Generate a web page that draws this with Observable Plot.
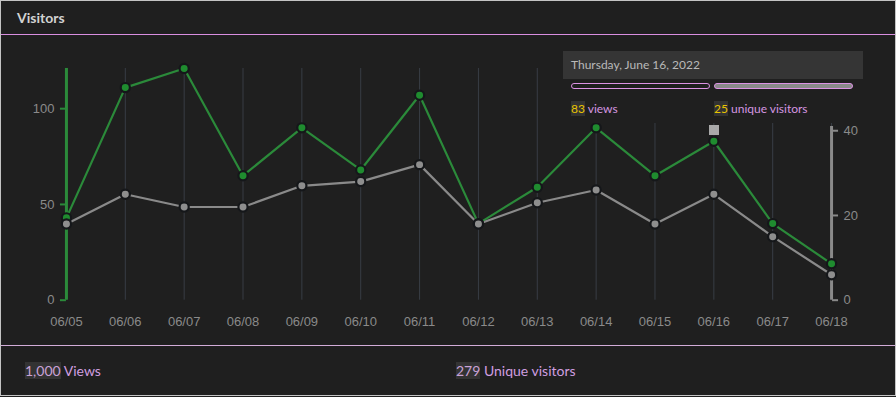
<!DOCTYPE html>
<html>
<head>
<meta charset="utf-8">
<script src="https://cdn.jsdelivr.net/npm/d3@7"></script>
<script src="https://cdn.jsdelivr.net/npm/@observablehq/plot@0.6"></script>
<style>
  html, body { margin: 0; padding: 0; background: #1f1f1f; }
  #card { position: absolute; left: 0; top: 0; width: 894px; height: 394px; border: 1px solid #c4c4c4; background: #1f1f1f; overflow: hidden; font-family: Lato, "Open Sans", sans-serif; }
  #title { position: absolute; left: 16px; top: 8px; font-size: 14px; font-weight: 700; color: #d2d2d2; }
  #hdrline { position: absolute; left: 0; top: 33px; width: 100%; height: 1px; background: #d98ee0; }
  #ftrline { position: absolute; left: 0; top: 344px; width: 100%; height: 1px; background: #d2acd8; }
  #chart { position: absolute; left: -1px; top: 34px; }
  .stat { position: absolute; top: 360px; font-size: 14px; color: #d09ee0; line-height: 19px; }
  .stat .num { background: #333333; color: #c9a2d6; }
  #tip { position: absolute; left: 562px; top: 50px; width: 300px; height: 72px; background: #1f1f1f; }
  #tipbox { position: absolute; left: 0; top: 0; width: 300px; height: 28px; background: #353535; color: #b9b9b9; font-size: 12px; line-height: 28px; }
  #tipbox span { margin-left: 8px; }
  .pill { position: absolute; top: 32px; width: 137px; height: 4px; border: 1px solid #dc92e4; border-radius: 3px; }
  .tv { position: absolute; top: 49px; font-size: 12px; color: #d596e0; line-height: 17px; }
  .tv .num { background: #333333; color: #e8c400; }
  #hovermark { position: absolute; width: 10px; height: 10px; background: #a9a9a9; }
</style>
</head>
<body>
<div id="card">
  <div id="title">Visitors</div>
  <div id="hdrline"></div>
  <div id="chart"></div>
  <div id="tip">
    <div id="tipbox"><span id="tipdate"></span></div>
    <div class="pill" style="left:8px; background:#1f1f1f;"></div>
    <div class="pill" style="left:151px; background:#8a8a8a;"></div>
    <div class="tv" style="left:8px;"><span class="num" id="tipviews"></span> <span id="tipviewslbl"></span></div>
    <div class="tv" style="left:151px;"><span class="num" id="tipuniq"></span> <span id="tipuniqlbl"></span></div>
  </div>
  <div id="hovermark"></div>
  <div id="ftrline"></div>
  <div class="stat" style="left:24px;"><span class="num" id="totv"></span> <span id="totvlbl"></span></div>
  <div class="stat" style="left:455px;"><span class="num" id="totu"></span> <span id="totulbl"></span></div>
</div>
<script>
// ---- data ----
const days = ["06/05","06/06","06/07","06/08","06/09","06/10","06/11","06/12","06/13","06/14","06/15","06/16","06/17","06/18"];
const views = [43,111,121,65,90,68,107,40,59,90,65,83,40,19];
const uniques = [18,25,22,22,27,28,32,18,23,26,18,25,15,6];
const leftTicks = [0,50,100];
const rightTicks = [0,20,40];
const viewsMax = 121;       // left scale domain top
const uniquesMax = 54.7;    // right scale domain top
const rightAxisTop = 41;    // right axis line extent (unique visitors)
const hoverIndex = 11;
const hoverDate = "Thursday, June 16, 2022";
const titleText = "Visitors";
const totalViews = "1,000";
const totalViewsLabel = "Views";
const totalUniques = "279";
const totalUniquesLabel = "Unique visitors";
const tipViewsLabel = "views";
const tipUniquesLabel = "unique visitors";

// ---- styles ----
const green = "#2b8a3a";
const greenDot = "#1f8c2f";
const grey = "#8a8a8a";
const greyDot = "#8e8e8e";
const dotStroke = "#15171a";
const k = viewsMax / uniquesMax;

const idx = days.map((d, i) => i);
const last = days.length - 1;
const rows = days.map((d, i) => ({i, v: views[i], u: uniques[i] * k}));

const chart = Plot.plot({
  width: 896,
  height: 310,
  marginLeft: 66,
  marginRight: 64,
  marginTop: 33,
  marginBottom: 46,
  style: {background: "transparent", color: "#8a8a8a", fontFamily: "'Liberation Sans', Arial, sans-serif", fontSize: "13px"},
  x: {type: "linear", domain: [0, last], range: [66, 832]},
  y: {domain: [0, viewsMax], range: [265, 33]},
  marks: [
    Plot.ruleX(idx, {y1: 0, y2: viewsMax, stroke: "#383d45", strokeWidth: 1}),
    Plot.ruleX([0], {y1: 0, y2: viewsMax, stroke: green, strokeWidth: 3}),
    Plot.ruleX([last], {y1: 0, y2: rightAxisTop * k, stroke: grey, strokeWidth: 3}),
    Plot.axisX(idx, {tickSize: 0, tickPadding: 18, fontSize: 13, fill: "#8a8a8a", label: null, tickFormat: i => days[i]}),
    Plot.axisY(leftTicks, {anchor: "left", tickSize: 6, tickPadding: 6, stroke: green, strokeWidth: 2, fill: "#8a8a8a", fontSize: 13, label: null}),
    Plot.axisY(rightTicks.map(t => t * k), {anchor: "right", tickSize: 6, tickPadding: 6, stroke: grey, strokeWidth: 2, fill: "#8a8a8a", fontSize: 13, label: null, tickFormat: d => String(Math.round(d / k))}),
    Plot.line(rows, {x: "i", y: "v", stroke: green, strokeWidth: 2.2}),
    Plot.line(rows, {x: "i", y: "u", stroke: grey, strokeWidth: 2.2}),
    Plot.dot(rows, {x: "i", y: "v", r: 4.6, fill: greenDot, stroke: dotStroke, strokeWidth: 2.2}),
    Plot.dot(rows, {x: "i", y: "u", r: 4.6, fill: greyDot, stroke: dotStroke, strokeWidth: 2.2})
  ]
});
document.getElementById("chart").appendChild(chart);

// text
document.getElementById("title").textContent = titleText;
document.getElementById("tipdate").textContent = hoverDate;
document.getElementById("tipviews").textContent = String(views[hoverIndex]);
document.getElementById("tipviewslbl").textContent = tipViewsLabel;
document.getElementById("tipuniq").textContent = String(uniques[hoverIndex]);
document.getElementById("tipuniqlbl").textContent = tipUniquesLabel;
document.getElementById("totv").textContent = totalViews;
document.getElementById("totvlbl").textContent = totalViewsLabel;
document.getElementById("totu").textContent = totalUniques;
document.getElementById("totulbl").textContent = totalUniquesLabel;

// hover marker positioned via the chart's x scale
const hx = chart.scale("x").apply(hoverIndex) - 1;
const hm = document.getElementById("hovermark");
hm.style.left = (hx - 5) + "px";
hm.style.top = "124px";
</script>
</body>
</html>
